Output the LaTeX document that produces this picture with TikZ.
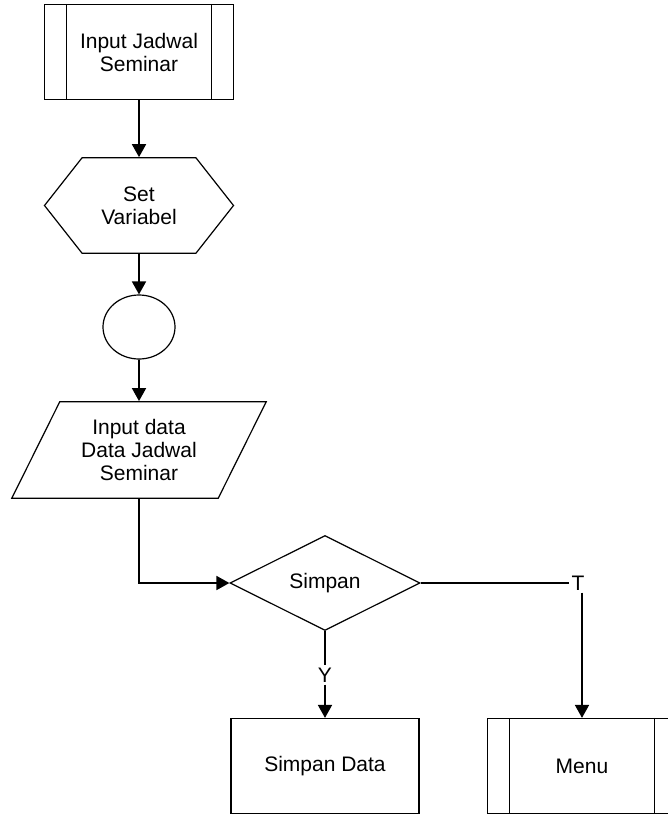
\documentclass[tikz,border=0pt]{standalone}
\usepackage{fontspec}
\setmainfont{Liberation Sans}
\usetikzlibrary{arrows.meta,positioning,shapes.geometric,shapes.symbols}
\tikzset{
  predef/.style={rectangle,draw,line width=.6pt,minimum width=94.5pt,minimum height=47.5pt,align=center,inner sep=1pt},
  prep/.style={signal,signal to=west and east,signal pointer angle=103.6,draw,line width=.6pt,minimum width=94.5pt,minimum height=47.75pt,align=center,inner sep=1pt},
  conn/.style={ellipse,draw,line width=.6pt,minimum width=36pt,minimum height=32pt,inner sep=0pt},
  io/.style={trapezium,trapezium left angle=61,trapezium right angle=119,trapezium stretches=true,draw,line width=.6pt,minimum width=127.5pt,minimum height=48.3pt,align=center,inner sep=1pt},
  decide/.style={diamond,draw,line width=.6pt,minimum width=95pt,minimum height=47.5pt,aspect=2,inner sep=0pt},
  procbox/.style={rectangle,draw,line width=.6pt,minimum width=94pt,minimum height=47.5pt,inner sep=1pt},
  flow/.style={line width=.9pt,-{Triangle[length=6.5pt,width=7pt]}},
  plain/.style={line width=.9pt},
  lab/.style={inner sep=1pt},
  every node/.style={font=\fontsize{10.5}{11.5}\selectfont}
}

\begin{document}
\begin{tikzpicture}[x=0.5pt,y=-0.5pt]
  \useasboundingbox (0,0) rectangle (668,815);
  \node[predef] (jadwal) at (139,52) {Input Jadwal\\Seminar};
  \draw[line width=.6pt] ([xshift=11.3pt]jadwal.north west) -- ([xshift=11.3pt]jadwal.south west);
  \draw[line width=.6pt] ([xshift=-11.3pt]jadwal.north east) -- ([xshift=-11.3pt]jadwal.south east);
  \node[prep] (variabel) at (139,205.5) {Set\\Variabel};
  \node[conn] (konektor) at (139,327) {};
  \node[io] (inputdata) at (139,450) {Input data\\Data Jadwal\\Seminar};
  \node[decide] (simpan) at (325,583) {Simpan};
  \node[procbox] (simpandata) at (325,766) {Simpan Data};
  \node[predef] (menu) at (582,766) {Menu};
  \draw[line width=.6pt] ([xshift=11.3pt]menu.north west) -- ([xshift=11.3pt]menu.south west);
  \draw[line width=.6pt] ([xshift=-11.3pt]menu.north east) -- ([xshift=-11.3pt]menu.south east);
  \node[lab] (tlab) at (578,583) {T};
  \node[lab] (ylab) at (325,675) {Y};

  \draw[flow] (jadwal) -- (variabel);
  \draw[flow] (variabel) -- (konektor);
  \draw[flow] (konektor) -- (inputdata);
  \draw[flow] (inputdata.south) |- (simpan);
  \draw[plain] (simpan.east) -- (tlab.west);
  \draw[flow] (menu.north |- tlab.south) -- (menu.north);
  \draw[plain] (simpan.south) -- (ylab.north);
  \draw[flow] (ylab.south) -- (simpandata.north);
\end{tikzpicture}
\end{document}
